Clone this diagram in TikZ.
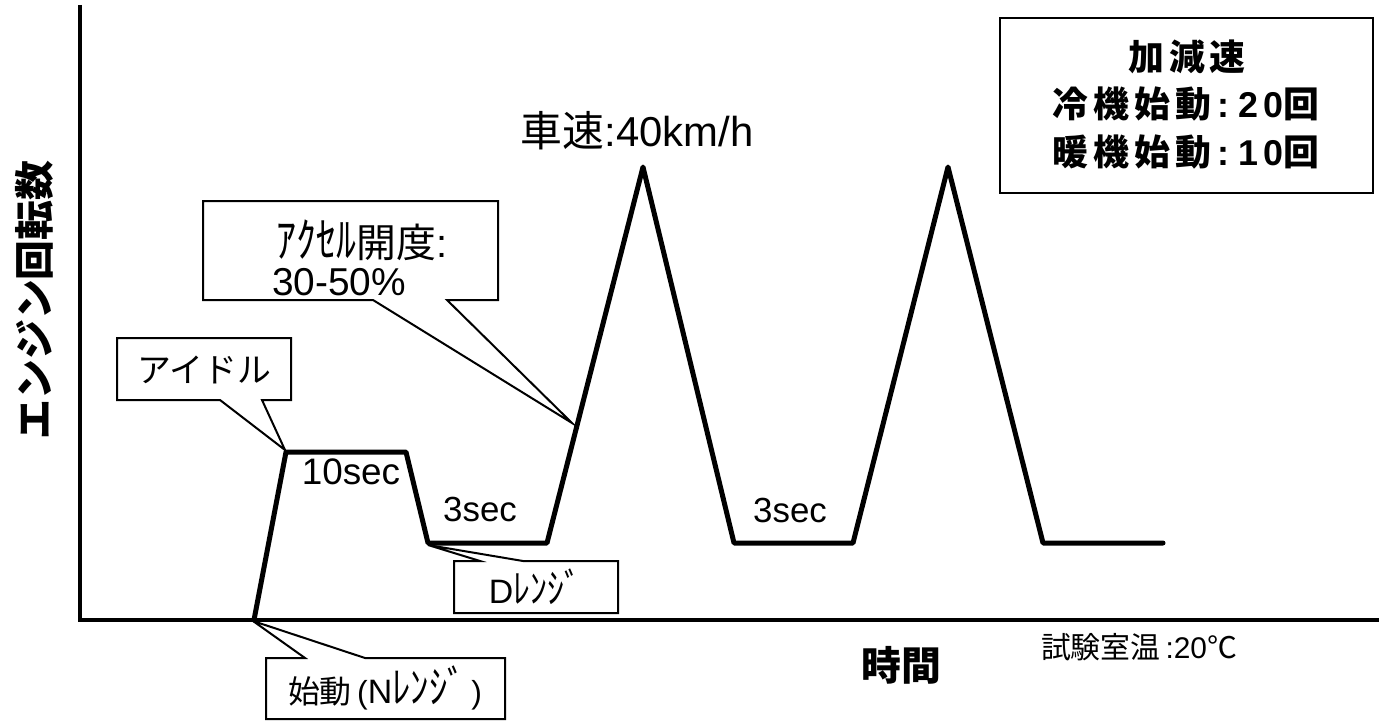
\documentclass[tikz,border=0pt]{standalone}
\usepackage{fontspec}
\setmainfont{Liberation Sans}
\newfontfamily\jp{Noto Sans CJK JP}
\newfontfamily\jpls{Noto Sans CJK JP}[LetterSpace=14]
\newfontfamily\lsans{Liberation Sans}[LetterSpace=14]
\newcommand{\hkana}[1]{\scalebox{1}[1.2]{\jp #1}}
\begin{document}
\begin{tikzpicture}[x=1bp,y=-1bp,
  curve/.style={line width=5bp,line cap=round,line join=round},
  axis/.style={line width=4.5bp},
  callout/.style={draw,line width=2bp,fill=white,line join=miter},
  lbl/.style={inner sep=0pt,anchor=center}]
\useasboundingbox (0,0) rectangle (1379,721);

% axes
\coordinate (ytop) at (80,5);
\coordinate (orig) at (80,620);
\coordinate (xend) at (1379,620);
\draw[axis] (ytop) -- (orig) -- (xend);

% callouts
\draw[callout] (117,338) -- (291,338) -- (291,400) -- (262,400) -- (285,450) -- (220,400) -- (117,400) -- cycle;
\node[lbl] (idle) at (204,370) {\fontsize{34}{40}\selectfont\jp アイドル};

\draw[callout] (203,201) -- (498,201) -- (498,300) -- (447,300) -- (572,423) -- (373,300) -- (203,300) -- cycle;
\node[lbl] (acc1) at (362,240) {\fontsize{40}{48}\selectfont\hkana{ｱｸｾﾙ}{\jp 開度}:};
\node[lbl] (acc2) at (339,282) {\fontsize{39}{46}\selectfont 30-50\%};

\draw[callout] (454,561) -- (480,561) -- (428,545) -- (523,561) -- (618,561) -- (618,613) -- (454,613) -- cycle;
\node[lbl] (drng) at (535,587) {\fontsize{34}{36}\selectfont D{\fontsize{34}{40}\selectfont\hkana{ﾚﾝｼﾞ}}};

\draw[callout] (266,658) -- (305,658) -- (253,621) -- (365,658) -- (505,658) -- (505,719) -- (266,719) -- cycle;
\node[lbl] (start) at (385,688) {\fontsize{32}{36}\selectfont{\jp 始動}\,({\fontsize{34}{36}\selectfont N}{\fontsize{37}{40}\selectfont\hkana{ﾚﾝｼﾞ}}\,)};

% engine speed curve
\coordinate (p0) at (254,620);
\coordinate (p1) at (286,452);
\coordinate (p2) at (406,452);
\coordinate (p3) at (428,543);
\coordinate (p4) at (547,543);
\coordinate (p5) at (643,167);
\coordinate (p6) at (734,543);
\coordinate (p7) at (853,543);
\coordinate (p8) at (948,167);
\coordinate (p9) at (1043,543);
\coordinate (p10) at (1163,543);
\draw[curve] (p0) -- (p1) -- (p2) -- (p3) -- (p4) -- (p5) -- (p6) -- (p7) -- (p8) -- (p9) -- (p10);

% labels
\node[lbl] (t10) at (351,472) {\fontsize{37}{44}\selectfont 10sec};
\node[lbl] (t3a) at (480,509) {\fontsize{35}{42}\selectfont 3sec};
\node[lbl] (t3b) at (790,510) {\fontsize{35}{42}\selectfont 3sec};
\node[lbl] (spd) at (637,131) {\fontsize{42}{48}\selectfont{\jp 車速}:40km/h};
\node[lbl] (temp) at (1139,647) {\fontsize{30}{36}\selectfont{\jp 試験室温}\,:20{\jp ℃}};
\node[lbl] (xlab) at (901,665) {\fontsize{40}{48}\selectfont\jp\bfseries 時間};
\node[lbl,rotate=90] (ylab) at (34,300) {\fontsize{40}{48}\selectfont\jp\bfseries エンジン回転数};

% info box
\node[draw,line width=2bp,minimum width=373bp,minimum height=175bp,inner sep=0pt] (info) at (1186.5,105.5) {};
\node[lbl] (i1) at (1187,57) {\fontsize{36}{44}\selectfont\jpls\bfseries 加減速};
\node[lbl] (i2) at (1186,104) {\fontsize{36}{44}\selectfont{\jpls\bfseries 冷機始動}\hspace{6pt}{\lsans\bfseries :\hspace{9pt}20}{\jpls\bfseries 回}};
\node[lbl] (i3) at (1186,152) {\fontsize{36}{44}\selectfont{\jpls\bfseries 暖機始動}\hspace{6pt}{\lsans\bfseries :\hspace{9pt}10}{\jpls\bfseries 回}};
\end{tikzpicture}
\end{document}
